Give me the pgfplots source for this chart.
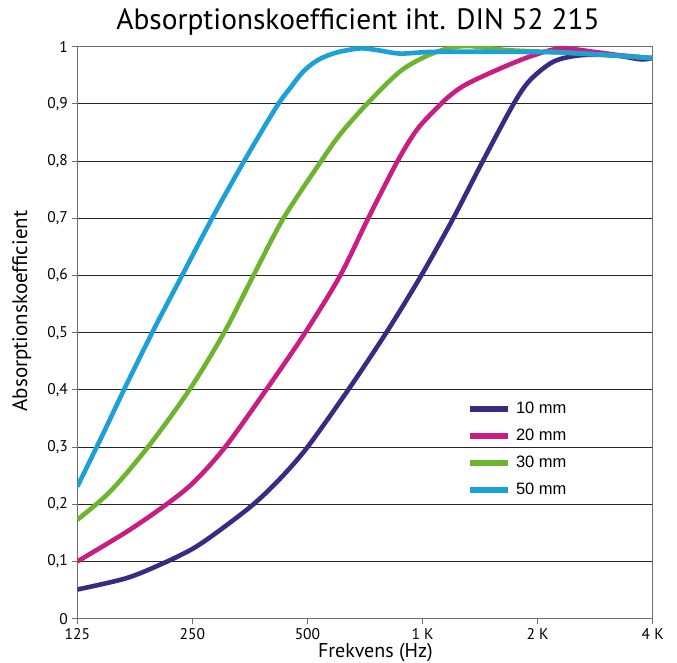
\documentclass[border=0pt]{standalone}
\usepackage{fontspec}
\setmainfont{PT Sans}
\newfontfamily\legendfont{Liberation Sans}
\usepackage{pgfplots}
\pgfplotsset{compat=1.18}
\usetikzlibrary{calc}

\definecolor{c10}{RGB}{58,42,130}
\definecolor{c20}{RGB}{200,29,130}
\definecolor{c30}{RGB}{109,181,47}
\definecolor{c50}{RGB}{27,160,216}
\definecolor{axgray}{RGB}{110,110,110}

\begin{document}
\begin{tikzpicture}
\begin{axis}[
    scale only axis,
    width=575.4pt,
    height=572pt,
    xmode=log,
    log basis x=2,
    xmin=125, xmax=4000,
    ymin=0, ymax=1,
    xtick={125,250,500,1000,2000,4000},
    xticklabels={125,250,500,1 K,2 K,4 K},
    ytick={0,0.1,0.2,0.3,0.4,0.5,0.6,0.7,0.8,0.9,1},
    yticklabels={0,{0,1},{0,2},{0,3},{0,4},{0,5},{0,6},{0,7},{0,8},{0,9},1},
    minor xtick={},
    ymajorgrids,
    grid style={black!85, line width=1.1pt},
    axis line style={axgray, line width=1pt},
    tick style={axgray, line width=1pt},
    tick align=outside,
    major tick length=5pt,
    xtick pos=bottom,
    ytick pos=left,
    tick label style={font=\fontsize{15.5}{15.5}\selectfont},
    xticklabel style={yshift=-1pt},
    yticklabel style={xshift=-1pt},
    every axis plot/.append style={line width=4.6pt, smooth, no markers},
    legend style={
        at={(0.677,0.382)}, anchor=north west,
        draw=none, fill=none,
        font=\legendfont\fontsize{16.5}{16.5}\selectfont,
        row sep=10pt,
        inner sep=0pt,
    },
    legend cell align=left,
    legend image code/.code={\draw[#1, line width=6pt] (0pt,0pt) -- (38pt,0pt);},
    /tikz/every odd column/.append style={column sep=3pt},
]
\coordinate (bl) at (rel axis cs:0,0);

\addplot[c10] coordinates {
 (125,0.051) (168.3,0.071) (209.9,0.097) (251.5,0.123) (295.4,0.155) (361.1,0.200)
 (424.3,0.245) (500,0.300) (639,0.400) (803.6,0.500) (992.2,0.600) (1203.3,0.700)
 (1437.6,0.800) (1730.6,0.900) (1914,0.942) (2202,0.974) (2586,0.985) (3161,0.985)
 (3714,0.978) (4000,0.980)};
\addlegendentry{10 mm}

\addplot[c20] coordinates {
 (125,0.100) (168.3,0.152) (209.9,0.196) (250.6,0.237) (304.5,0.300) (389.8,0.400)
 (493.1,0.500) (609,0.600) (720.9,0.700) (860.2,0.800) (966.9,0.855) (1090.6,0.893)
 (1181.7,0.915) (1306.9,0.935) (1597.6,0.962) (1914,0.983) (2293,0.997) (2803,0.991)
 (3292,0.985) (4000,0.980)};
\addlegendentry{20 mm}

\addplot[c30] coordinates {
 (125,0.173) (152.2,0.222) (191.8,0.301) (245.5,0.400) (302.6,0.500) (361.1,0.600)
 (432.6,0.700) (543,0.800) (609,0.847) (715.3,0.900) (874.3,0.957) (1026.9,0.984)
 (1181.7,0.998) (1333,1.001) (1666,0.994) (2293,0.990) (3100,0.985) (4000,0.980)};
\addlegendentry{30 mm}

\addplot[c50] coordinates {
 (125,0.231) (143.3,0.312) (168.3,0.410) (199.7,0.510) (234.9,0.600) (281.5,0.700)
 (341.4,0.800) (415,0.895) (453.3,0.930) (488.1,0.957) (533.3,0.977) (597,0.990)
 (687,0.997) (761.1,0.994) (874.3,0.988) (1066.5,0.991) (1597.6,0.991) (2293,0.990)
 (3100,0.985) (4000,0.980)};
\addlegendentry{50 mm}
\end{axis}

\node[font=\fontsize{29.4}{29.4}\selectfont] at ($(bl)+(280.7pt,597pt)$) {Absorptionskoefficient iht. DIN 52 215};
\node[font=\fontsize{21}{21}\selectfont, rotate=90] at ($(bl)+(-55.5pt,307.7pt)$) {Absorptionskoefficient};
\node[font=\fontsize{20}{20}\selectfont, anchor=base] at ($(bl)+(298pt,-38.8pt)$) {Frekvens (Hz)};

\pgfresetboundingbox
\path[use as bounding box] ($(bl)+(-77.3pt,-43.3pt)$) rectangle ++(677pt,662pt);
\end{tikzpicture}
\end{document}
